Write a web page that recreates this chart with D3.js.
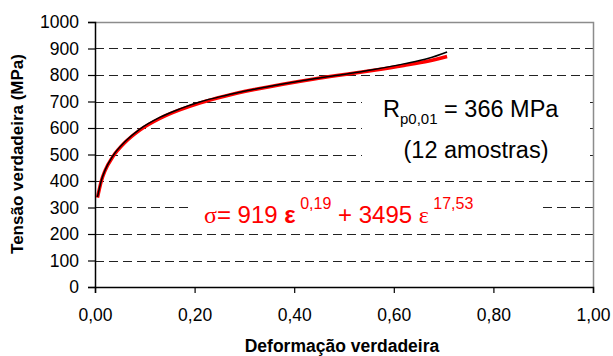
<!DOCTYPE html>
<html>
<head>
<meta charset="utf-8">
<script src="https://cdn.jsdelivr.net/npm/d3@7"></script>
<style>
  body { margin: 0; background: #fff; }
  svg text { font-family: "Liberation Sans", Arial, sans-serif; }
</style>
</head>
<body>
<script>
// values
const strain = [0.005, 0.0127, 0.02, 0.036, 0.06, 0.09, 0.13, 0.17, 0.21, 0.26, 0.32, 0.38, 0.44, 0.505, 0.56, 0.62, 0.67, 0.707];
const stressFit = [337, 400, 438, 492, 545, 592, 636, 668, 694, 720, 745, 766, 785, 803, 818, 836, 853, 870];
const stressExp = [340, 402, 440, 495, 548, 596, 640, 672, 698, 722, 746, 767, 786, 804, 821, 842, 863, 887];

const yTicks = [0, 100, 200, 300, 400, 500, 600, 700, 800, 900, 1000];
const xTicks = [0, 0.2, 0.4, 0.6, 0.8, 1.0];
const xTickLabels = ['0,00', '0,20', '0,40', '0,60', '0,80', '1,00'];

const w = 613,
      h = 356;

const svg = d3.select('body')
            .append('svg')
            .attr('width', w)
            .attr('height', h);

const xScale = d3.scaleLinear()
                .domain([0, 1])
                .range([95, 593]);

const yScale = d3.scaleLinear()
                .domain([0, 1000])
                .range([287, 22]);

// dashed grid
svg.append('g')
    .selectAll('line')
    .data(yTicks.filter(d => d > 0 && d < 1000))
    .enter()
    .append('line')
    .attr('x1', xScale(0))
    .attr('x2', xScale(1))
    .attr('y1', d => Math.round(yScale(d)) + 0.5)
    .attr('y2', d => Math.round(yScale(d)) + 0.5)
    .attr('stroke', '#222')
    .attr('stroke-width', 1)
    .attr('stroke-dasharray', '9,5');

// frame top / right
svg.append('path')
    .attr('d', 'M' + xScale(0) + ',' + (yScale(1000) + 0.5) + 'H' + (xScale(1) + 0.5) + 'V' + yScale(0))
    .attr('fill', 'none')
    .attr('stroke', '#8c8c8c')
    .attr('stroke-width', 1.5);

// white boxes behind the notes
svg.append('rect').attr('x', 362).attr('y', 88).attr('width', 228).attr('height', 84).attr('fill', '#fff');
svg.append('rect').attr('x', 192).attr('y', 192).attr('width', 351).attr('height', 36).attr('fill', '#fff');

const line = d3.line()
    .x((d, i) => xScale(strain[i]))
    .y(d => yScale(d))
    .curve(d3.curveMonotoneX);

svg.append('path')
    .attr('d', line(stressFit))
    .attr('fill', 'none')
    .attr('stroke', '#ff0000')
    .attr('stroke-width', 3.5);

svg.append('path')
    .attr('d', line(stressExp))
    .attr('fill', 'none')
    .attr('stroke', '#000')
    .attr('stroke-width', 1.5);

const xAxis = d3.axisBottom(xScale)
                .tickValues(xTicks)
                .tickSize(6)
                .tickPadding(16)
                .tickFormat((d, i) => xTickLabels[i]);

const yAxis = d3.axisLeft(yScale)
                .tickValues(yTicks)
                .tickSize(7)
                .tickPadding(9)
                .tickFormat(d => d);

const gx = svg.append('g')
    .attr('id', 'x-axis')
    .attr('transform', 'translate(0,' + yScale(0) + ')')
    .call(xAxis);
const gy = svg.append('g')
    .attr('id', 'y-axis')
    .attr('transform', 'translate(' + xScale(0) + ',0)')
    .call(yAxis);

[gx, gy].forEach(g => {
  g.select('.domain').attr('stroke', '#000').attr('stroke-width', 1.5);
  g.selectAll('.tick line').attr('stroke', '#000').attr('stroke-width', 1.2);
  g.selectAll('.tick text')
    .attr('font-family', '"Liberation Sans", Arial, sans-serif')
    .attr('font-size', 17.5)
    .attr('fill', '#000');
});

// axis titles
svg.append('text')
    .attr('x', 342)
    .attr('y', 352)
    .attr('text-anchor', 'middle')
    .attr('font-size', 17.5)
    .attr('font-weight', 'bold')
    .text('Deformação verdadeira');

svg.append('text')
    .attr('transform', 'translate(23,154) rotate(-90)')
    .attr('text-anchor', 'middle')
    .attr('font-size', 17)
    .attr('font-weight', 'bold')
    .text('Tensão verdadeira (MPa)');

// notes
const rp = svg.append('text')
    .attr('x', 383)
    .attr('y', 117)
    .attr('font-size', 23.5);
rp.append('tspan').text('R');
rp.append('tspan').attr('font-size', 15).attr('dy', 7).text('p0,01');
rp.append('tspan').attr('dy', -7).text(' = 366 MPa');

svg.append('text')
    .attr('x', 476)
    .attr('y', 158)
    .attr('text-anchor', 'middle')
    .attr('font-size', 23.5)
    .text('(12 amostras)');

const eq = svg.append('text')
    .attr('x', 204)
    .attr('y', 223)
    .attr('font-size', 24)
    .attr('fill', '#ff0000');
eq.append('tspan').attr('font-family', '"Liberation Serif", serif').text('σ');
eq.append('tspan').text('= 919 ');
eq.append('tspan').attr('font-weight', 'bold').text('ε');
eq.append('tspan').attr('font-size', 16).attr('dy', -14).text(' 0,19');
eq.append('tspan').attr('dy', 14).text(' + 3495 ');
eq.append('tspan').attr('font-family', '"Liberation Serif", serif').text('ε');
eq.append('tspan').attr('font-size', 16).attr('dy', -14).text(' 17,53');
</script>
</body>
</html>
